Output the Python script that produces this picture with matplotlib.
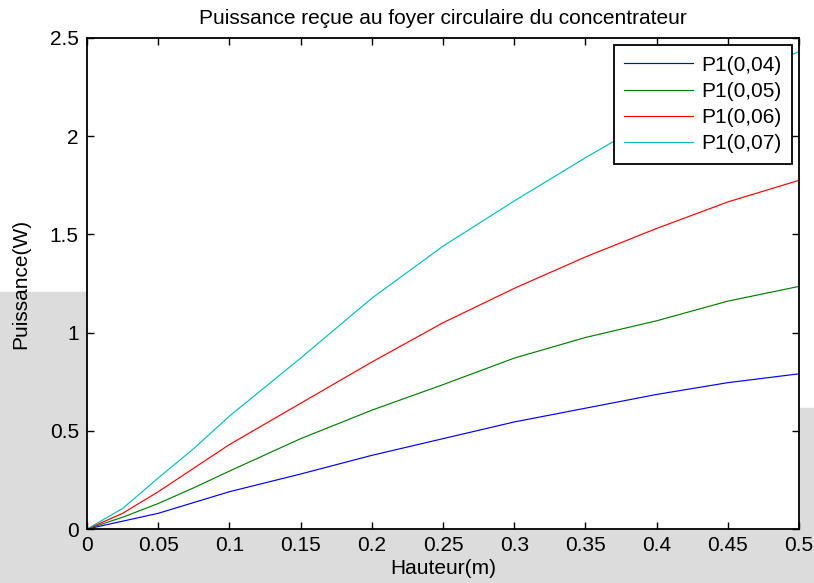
import matplotlib
matplotlib.use("Agg")
import matplotlib.pyplot as plt
from matplotlib.ticker import FuncFormatter
from matplotlib.patches import Rectangle

plt.rcParams['font.family'] = ['Liberation Sans', 'DejaVu Sans']

hauteur = [0, 0.025, 0.05, 0.075, 0.1, 0.15, 0.2, 0.25, 0.3, 0.35, 0.4, 0.45, 0.5]
p_004 = [0, 0.04, 0.08, 0.135, 0.19, 0.28, 0.375, 0.46, 0.545, 0.615, 0.685, 0.745, 0.79]
p_005 = [0, 0.06, 0.13, 0.21, 0.295, 0.46, 0.605, 0.735, 0.87, 0.975, 1.06, 1.16, 1.235]
p_006 = [0, 0.08, 0.19, 0.31, 0.43, 0.64, 0.85, 1.05, 1.225, 1.385, 1.53, 1.665, 1.775]
p_007 = [0, 0.105, 0.26, 0.41, 0.575, 0.87, 1.175, 1.44, 1.67, 1.89, 2.1, 2.28, 2.43]
labels = ['P1(0,04)', 'P1(0,05)', 'P1(0,06)', 'P1(0,07)']
colors = ['#0000ff', '#008000', '#ff0000', '#00bfbf']
x_ticks = [0, 0.05, 0.1, 0.15, 0.2, 0.25, 0.3, 0.35, 0.4, 0.45, 0.5]
y_ticks = [0, 0.5, 1, 1.5, 2, 2.5]

fig = plt.figure(figsize=(8.14, 5.83), dpi=100)

# faint grey background (watermark) outside the plotting area
gray = '#dcdcdc'
fig.patches.append(Rectangle((0, 0), 1, 0.093, transform=fig.transFigure,
                             color=gray, zorder=-10))
fig.patches.append(Rectangle((0, 0), 0.107, 0.5, transform=fig.transFigure,
                             color=gray, zorder=-10))
fig.patches.append(Rectangle((0.98, 0), 0.02, 0.3, transform=fig.transFigure,
                             color=gray, zorder=-10))

ax = fig.add_axes([0.107, 0.0926, 0.8746, 0.8424])

for ys, lab, c in zip([p_004, p_005, p_006, p_007], labels, colors):
    ax.plot(hauteur, ys, color=c, lw=0.85, label=lab)

ax.set_xlim(0, 0.5)
ax.set_ylim(0, 2.5)
ax.set_xticks(x_ticks)
ax.set_yticks(y_ticks)
fmt = FuncFormatter(lambda v, p: ('%g' % round(v, 3)))
ax.xaxis.set_major_formatter(fmt)
ax.yaxis.set_major_formatter(fmt)
ax.tick_params(direction='in', top=True, right=True, length=5, width=1,
               labelsize=15, pad=5)
ax.tick_params(axis='y', pad=6)
for s in ax.spines.values():
    s.set_linewidth(1.3)

ax.set_title('Puissance reçue au foyer circulaire du concentrateur', fontsize=15, pad=10)
ax.set_xlabel('Hauteur(m)', fontsize=15, labelpad=3)
ax.set_ylabel('Puissance(W)', fontsize=15, labelpad=14)

leg = ax.legend(loc='upper right', fontsize=15, handlelength=3.3, frameon=True,
                fancybox=False, edgecolor='black', borderaxespad=0.35,
                labelspacing=0.35, borderpad=0.5, handletextpad=0.4,
                framealpha=1)
leg.get_frame().set_linewidth(1.3)

fig.savefig('out.png', dpi=100, facecolor='white')
